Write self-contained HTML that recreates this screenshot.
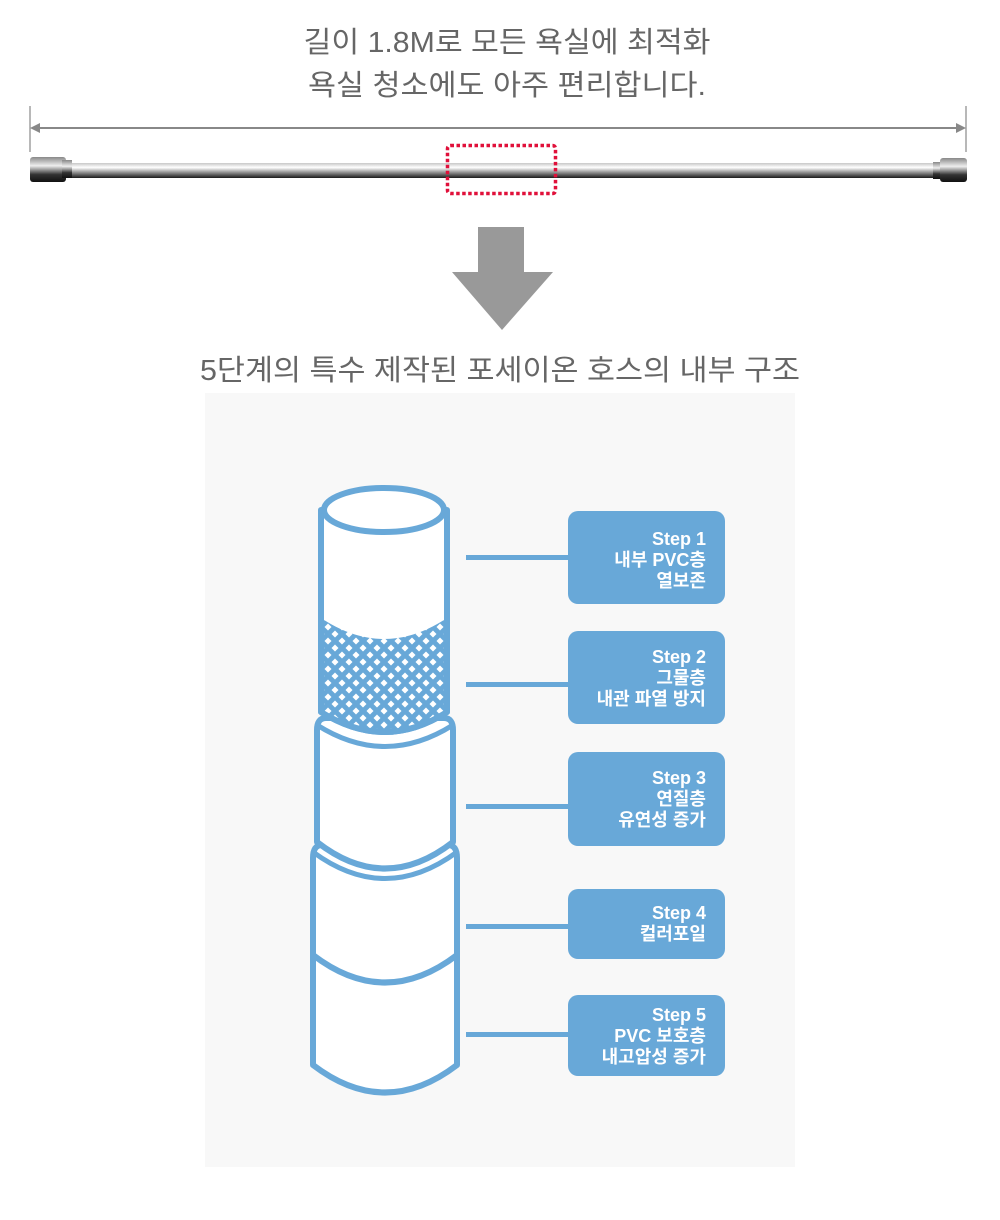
<!DOCTYPE html>
<html><head><meta charset="utf-8"><style>
html,body{margin:0;padding:0;background:#fff;}
svg{display:block;}
text{font-family:"Liberation Sans","Noto Sans CJK KR",sans-serif;}
</style></head><body>
<svg width="1000" height="1220" viewBox="0 0 1000 1220" xmlns="http://www.w3.org/2000/svg">
<defs>
<linearGradient id="hose" x1="0" y1="0" x2="0" y2="1">
<stop offset="0" stop-color="#c8c8c8"/><stop offset="0.3" stop-color="#ffffff"/><stop offset="0.6" stop-color="#9a9a9a"/><stop offset="1" stop-color="#1a1a1a"/>
</linearGradient>
<linearGradient id="cap" x1="0" y1="0" x2="0" y2="1">
<stop offset="0" stop-color="#888"/><stop offset="0.35" stop-color="#eee"/><stop offset="0.7" stop-color="#333"/><stop offset="1" stop-color="#111"/>
</linearGradient>
<pattern id="mesh" width="14" height="14" patternUnits="userSpaceOnUse" x="321" y="620">
<rect width="14" height="14" fill="#68a8d8"/>
<path d="M7 3.5 L10.5 7 L7 10.5 L3.5 7Z" fill="#fff"/>
<path d="M0 -3.5 L3.5 0 L0 3.5 L-3.5 0Z M14 -3.5 L17.5 0 L14 3.5 L10.5 0Z M0 10.5 L3.5 14 L0 17.5 L-3.5 14Z M14 10.5 L17.5 14 L14 17.5 L10.5 14Z" fill="#fff"/>
</pattern>
</defs>
<text x="507" y="52" font-size="29" fill="#666" text-anchor="middle" textLength="407" lengthAdjust="spacingAndGlyphs">길이 1.8M로 모든 욕실에 최적화</text>
<text x="507" y="95" font-size="29" fill="#666" text-anchor="middle" textLength="398" lengthAdjust="spacingAndGlyphs">욕실 청소에도 아주 편리합니다.</text>
<line x1="30" y1="106" x2="30" y2="152" stroke="#888" stroke-width="1.2"/>
<line x1="966" y1="106" x2="966" y2="152" stroke="#888" stroke-width="1.2"/>
<line x1="32" y1="128" x2="964" y2="128" stroke="#888" stroke-width="2"/>
<path d="M30 128 L40 123 L40 133Z M966 128 L956 123 L956 133Z" fill="#888"/>
<rect x="60" y="163" width="880" height="15" fill="url(#hose)"/>
<rect x="30" y="157" width="36" height="25" rx="3" fill="url(#cap)"/>
<rect x="62" y="160" width="10" height="18" fill="url(#cap)"/>
<rect x="933" y="162" width="10" height="17" fill="url(#cap)"/>
<rect x="940" y="158" width="27" height="24" rx="3" fill="url(#cap)"/>
<rect x="447.5" y="145.5" width="108" height="48" rx="3" fill="none" stroke="#e0103a" stroke-width="3.5" stroke-dasharray="3.5 2.5"/>
<rect x="478" y="227" width="46" height="48" fill="#999"/>
<path d="M452 272 L553 272 L502 330Z" fill="#999"/>
<text x="500" y="380" font-size="29" fill="#666" text-anchor="middle" textLength="600" lengthAdjust="spacingAndGlyphs">5단계의 특수 제작된 포세이온 호스의 내부 구조</text>
<rect x="205" y="393" width="590" height="774" fill="#f8f8f8"/>
<g stroke="#68a8d8" stroke-width="6" fill="#fff" stroke-linejoin="round">
<!-- third tube -->
<path d="M313 1065 L313 858 Q313 845 322 845 L448 845 Q457 845 457 858 L457 1065 Q385 1120 313 1065 Z"/>
<path d="M313 955 Q385 1010 457 955" fill="none"/>
<path d="M313 852 Q385 905 457 852" fill="none" stroke-width="5"/>
<!-- second tube -->
<path d="M317 842 L317 730 Q317 718 326 718 L444 718 Q453 718 453 730 L453 842 Q385 895 317 842 Z"/>
<path d="M317 725 Q385 768 453 725" fill="none" stroke-width="5"/>
<!-- top tube -->
<path d="M321 510 L321 712 Q385 752 447 712 L447 510 Z"/>
<path d="M321 618 Q384 660 447 618 L447 712 Q385 752 321 712 Z" fill="url(#mesh)" stroke="none"/>
<path d="M321 510 L321 712 Q385 752 447 712 L447 510" fill="none"/>
<ellipse cx="384" cy="510" rx="60" ry="22"/>
</g>
<g fill="#68a8d8">
<rect x="466" y="555" width="104" height="5"/>
<rect x="466" y="682" width="104" height="5"/>
<rect x="466" y="804" width="104" height="5"/>
<rect x="466" y="924" width="104" height="5"/>
<rect x="466" y="1032" width="104" height="5"/>
<rect x="568" y="511" width="157" height="93" rx="10"/>
<rect x="568" y="631" width="157" height="93" rx="10"/>
<rect x="568" y="752" width="157" height="94" rx="10"/>
<rect x="568" y="889" width="157" height="70" rx="10"/>
<rect x="568" y="995" width="157" height="81" rx="10"/>
</g>
<g fill="#fff" font-size="18" font-weight="bold" text-anchor="end">
<text x="706" y="545">Step 1</text><text x="706" y="566">내부 PVC층</text><text x="706" y="587">열보존</text>
<text x="706" y="663">Step 2</text><text x="706" y="684">그물층</text><text x="706" y="705">내관 파열 방지</text>
<text x="706" y="784">Step 3</text><text x="706" y="805">연질층</text><text x="706" y="826">유연성 증가</text>
<text x="706" y="919">Step 4</text><text x="706" y="940">컬러포일</text>
<text x="706" y="1021">Step 5</text><text x="706" y="1042">PVC 보호층</text><text x="706" y="1063">내고압성 증가</text>
</g>
</svg>
</body></html>
